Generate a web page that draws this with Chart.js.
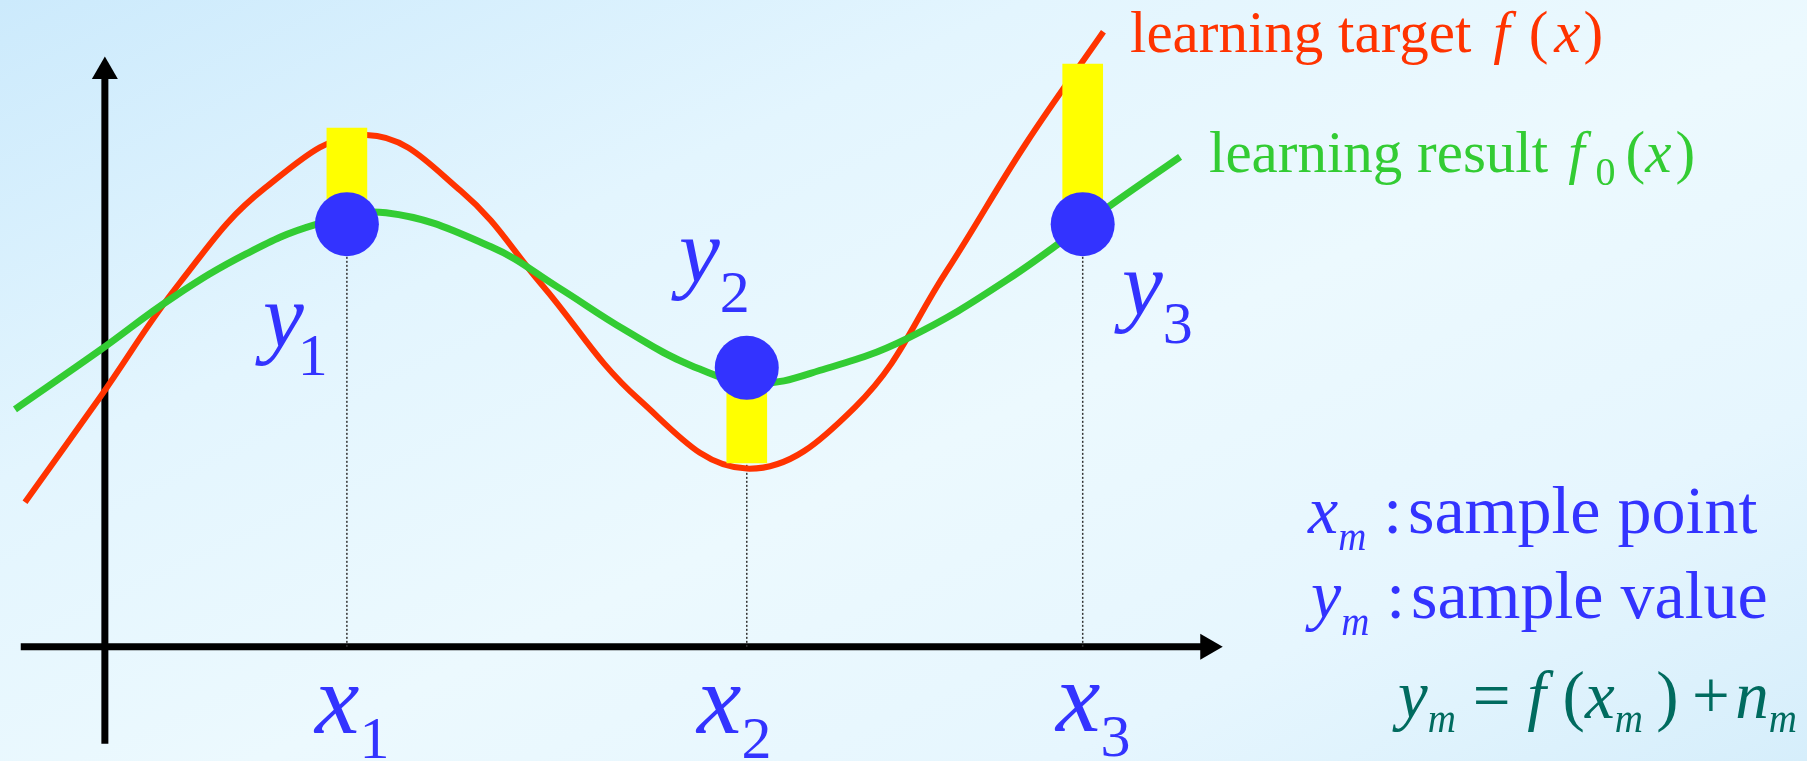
<!DOCTYPE html>
<html>
<head>
<meta charset="utf-8">
<title>learning target / learning result</title>
<script src="https://cdn.jsdelivr.net/npm/chart.js@4/dist/chart.umd.min.js"></script>
<style>
    html, body { margin: 0; padding: 0; }
    body {
        width: 1807px;
        height: 761px;
        overflow: hidden;
        background: linear-gradient(155deg, #cceafc 0%, #e3f5fe 30%, #ecf9fe 55%, #e6f6fe 78%, #d6eefb 100%);
        font-family: "Liberation Serif", "DejaVu Serif", serif;
    }
    #wrap { position: relative; width: 1807px; height: 761px; }
    #chart { position: absolute; left: 0; top: 0; }
    .lbl { position: absolute; white-space: nowrap; line-height: 1; }
    .lbl .sub { position: relative; }
    .lbl .gap { display: inline-block; height: 1px; }
</style>
</head>
<body>
<div id="wrap">
    <canvas id="chart" width="1807" height="761"></canvas>
</div>
<script>
// 坐标范围（原点在两轴交点）
const X_MIN = -0.91, X_MAX = 14.77;
const Y_MIN = -0.99, Y_MAX = 5.61;

// 采样点 x_m 与采样值 y_m
const sampleX = [2.10, 5.57, 8.485];
const sampleY = [3.666, 2.42, 3.666];
// 采样点处的学习目标 f(x_m)
const targetAtSample = [4.50, 1.595, 5.055];

// 学习目标 f(x)
const targetX = [-0.693, -0.042, 0.652, 1.39, 2.27, 3.09, 3.79, 4.64, 5.57, 6.51, 7.305, 7.99, 8.665];
const targetY = [1.254, 2.165, 3.16, 3.98, 4.44, 3.953, 3.143, 2.14, 1.546, 2.08, 3.26, 4.361, 5.335];

// 学习结果 f0(x)
const resultX = [-0.78, -0.042, 0.59, 1.23, 1.82, 2.44, 3.35, 3.93, 4.51, 5.08, 5.64, 6.26, 6.96, 7.825, 8.75, 9.33];
const resultY = [2.06, 2.573, 3.03, 3.41, 3.66, 3.765, 3.47, 3.12, 2.75, 2.443, 2.285, 2.414, 2.674, 3.18, 3.846, 4.25];

// 坐标轴起止
const axisXRange = [-0.73, 9.57];
const axisYRange = [-0.84, 4.99];

// 颜色
const RED = '#ff3300';
const GREEN = '#33cc33';
const BLUE = '#3333ff';
const TEAL = '#006b5f';

function toPoints(xs, ys) {
    return xs.map((x, i) => ({ x: x, y: ys[i] }));
}

// 构建数据集
function buildDatasets() {
    const sets = [];

    // 采样点
    sets.push({
        type: 'scatter',
        data: toPoints(sampleX, sampleY),
        pointRadius: 32,
        pointBackgroundColor: BLUE,
        pointBorderWidth: 0,
        order: 0
    });

    // 误差（黄色条）
    sets.push({
        type: 'bar',
        data: sampleX.map((x, i) => ({ x: x, y: [sampleY[i], targetAtSample[i]] })),
        backgroundColor: '#ffff00',
        borderWidth: 0,
        barThickness: 40,
        order: 1
    });

    // 学习结果
    sets.push({
        type: 'line',
        data: toPoints(resultX, resultY),
        borderColor: GREEN,
        borderWidth: 7,
        tension: 0.4,
        pointRadius: 0,
        order: 2
    });

    // 学习目标
    sets.push({
        type: 'line',
        data: toPoints(targetX, targetY),
        borderColor: RED,
        borderWidth: 6,
        tension: 0.4,
        pointRadius: 0,
        order: 3
    });

    // 虚线：采样点到横轴
    sampleX.forEach((x, i) => {
        sets.push({
            type: 'line',
            data: [{ x: x, y: 0 }, { x: x, y: sampleY[i] }],
            borderColor: '#333333',
            borderWidth: 1.5,
            borderDash: [2, 2],
            pointRadius: 0,
            order: 4
        });
    });

    // 横轴、纵轴
    sets.push({
        type: 'line',
        data: [{ x: axisXRange[0], y: 0 }, { x: axisXRange[1], y: 0 }],
        borderColor: '#000000',
        borderWidth: 7,
        pointRadius: 0,
        order: 5
    });
    sets.push({
        type: 'line',
        data: [{ x: 0, y: axisYRange[0] }, { x: 0, y: axisYRange[1] }],
        borderColor: '#000000',
        borderWidth: 7,
        pointRadius: 0,
        order: 5
    });

    // 箭头
    sets.push({
        type: 'scatter',
        data: [{ x: axisXRange[1], y: 0 }, { x: 0, y: axisYRange[1] }],
        pointStyle: 'triangle',
        pointRotation: [90, 0],
        pointRadius: 15,
        pointBackgroundColor: '#000000',
        pointBorderWidth: 0,
        order: 5
    });

    return sets;
}

// 下标
function sub(text, size, drop, italic, shift) {
    const t = italic ? '<i>' + text + '</i>' : text;
    const ml = shift ? ';margin-left:' + shift + 'px' : '';
    return '<span class="sub" style="font-size:' + size + 'px;top:' + drop + 'px' + ml + '">' + t + '</span>';
}

// 水平间距
function gap(px) {
    return '<span class="gap" style="width:' + px + 'px"></span>';
}

// 文字标注（像素位置：左边、基线）
const labels = [
    { html: 'learning target' + gap(22) + '<i>f</i>' + gap(19) + '(' + gap(6) + '<i>x</i>' + gap(3) + ')', left: 1130, base: 52, size: 59, color: RED },
    { html: 'learning result' + gap(20) + '<i>f</i>' + gap(11) + sub('0', 40, 13) + gap(10) + '(<i>x</i>' + gap(4) + ')', left: 1209, base: 172, size: 59, color: GREEN },
    { html: '<i>y</i>' + sub('1', 60, 28, false, -6), left: 263, base: 347, size: 92, color: BLUE },
    { html: '<i>y</i>' + sub('2', 60, 30), left: 679, base: 282, size: 92, color: BLUE },
    { html: '<i>y</i>' + sub('3', 60, 28), left: 1122, base: 315, size: 92, color: BLUE },
    { html: '<i>x</i>' + sub('1', 60, 25), left: 315, base: 734, size: 100, color: BLUE },
    { html: '<i>x</i>' + sub('2', 60, 25), left: 697, base: 734, size: 100, color: BLUE },
    { html: '<i>x</i>' + sub('3', 60, 25), left: 1056, base: 732, size: 100, color: BLUE },
    { html: '<i>x</i>' + sub('m', 39, 17, true) + ' :&#8202;sample point', left: 1308, base: 533, size: 68, color: BLUE },
    { html: '<i>y</i>' + sub('m', 39, 17, true) + ' :&#8202;sample value', left: 1311, base: 618, size: 68, color: BLUE },
    { html: '<i>y</i>' + sub('m', 39, 14, true) + ' = <i>f</i> (<i>x</i>' + sub('m', 39, 14, true) + '&thinsp;)&thinsp;+&#8202;<i>n</i>' + sub('m', 39, 14, true), left: 1398, base: 718, size: 67, color: TEAL }
];

// 放置文字
function placeLabels() {
    const wrap = document.getElementById('wrap');
    labels.forEach(l => {
        const div = document.createElement('div');
        div.className = 'lbl';
        div.style.left = l.left + 'px';
        div.style.top = (l.base - 0.8375 * l.size) + 'px';
        div.style.fontSize = l.size + 'px';
        div.style.color = l.color;
        div.innerHTML = l.html;
        wrap.appendChild(div);
    });
}

// 初始化图表
function initChart() {
    new Chart(document.getElementById('chart'), {
        type: 'scatter',
        data: { datasets: buildDatasets() },
        options: {
            responsive: false,
            animation: false,
            events: [],
            layout: { padding: 0, autoPadding: false },
            plugins: {
                legend: { display: false },
                tooltip: { enabled: false }
            },
            scales: {
                x: { type: 'linear', min: X_MIN, max: X_MAX, offset: false, display: false },
                y: { type: 'linear', min: Y_MIN, max: Y_MAX, display: false }
            }
        }
    });
    placeLabels();
}

document.addEventListener('DOMContentLoaded', initChart);
</script>
</body>
</html>
